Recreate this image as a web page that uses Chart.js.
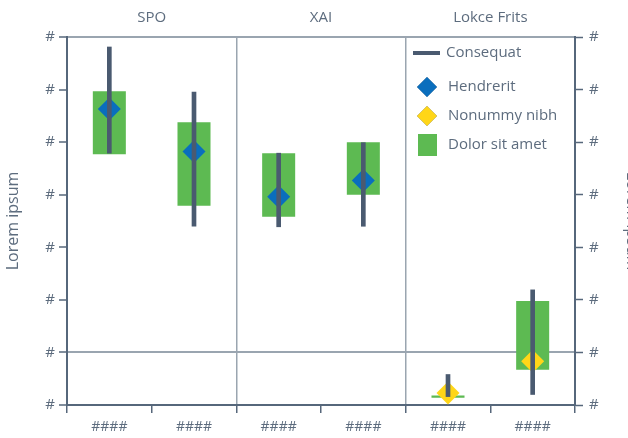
<!DOCTYPE html>
<html>
<head>
<meta charset="utf-8">
<script src="https://cdn.jsdelivr.net/npm/chart.js@4.4.1/dist/chart.umd.min.js"></script>
<style>
  html, body { margin:0; padding:0; background:#fff; }
  #wrap { width:628px; height:438px; }
</style>
</head>
<body>
<div id="wrap"><canvas id="c" width="628" height="438"></canvas></div>
<script>
// data (value scale 0..7, every tick labelled "#")
const categories = ['####','####','####','####','####','####'];
const panels = ['SPO','XAI','Lokce Frits'];
const tickLabel = '#';
const boxLow   = [4.77, 3.79, 3.58, 4.00, 0.14, 0.67];
const boxHigh  = [5.97, 5.38, 4.79, 5.00, 0.18, 1.98];
const whiskLow  = [4.79, 3.40, 3.39, 3.40, 0.16, 0.20];
const whiskHigh = [6.81, 5.95, 4.79, 4.99, 0.58, 2.19];
const hendrerit = [5.63, 4.82, 3.96, 4.27, null, null];
const nonummy   = [null, null, null, null, 0.23, 0.83];

const C = {
  axis:'#56677b', grid:'#9aa5b0', text:'#5d6c7e',
  whisker:'#4a5a70', blue:'#0a6ebd', yellow:'#ffd618', green:'#5dba52'
};
const FONT = "'Open Sans', sans-serif";

const pair = (lo, hi) => lo.map((v,i) => [v, hi[i]]);

// legend drawn inside the third panel
const boxLegend = {
  id:'boxLegend',
  afterDraw(chart){
    const ctx = chart.ctx;
    const ds = chart.data.datasets;
    const x = 413, rows = [53, 87, 116, 145];
    ctx.save();
    ctx.font = '15px ' + FONT;
    ctx.fillStyle = C.text;
    ctx.textBaseline = 'middle';
    ds.forEach((d,i) => {
      const y = rows[i];
      if(d.legendKind==='line'){
        ctx.fillStyle = d.backgroundColor;
        ctx.fillRect(x, y-2, 27, 4);
      } else if(d.legendKind==='diamond'){
        Chart.helpers.drawPoint(ctx, {pointStyle:'rectRot', radius:10, borderWidth:0}, x+14, y);
        ctx.fillStyle = d.backgroundColor;
        ctx.beginPath();
        ctx.moveTo(x+14, y-10); ctx.lineTo(x+24, y); ctx.lineTo(x+14, y+10); ctx.lineTo(x+4, y);
        ctx.closePath(); ctx.fill();
      } else {
        ctx.fillStyle = d.backgroundColor;
        ctx.fillRect(x+5, y-11, 19, 22);
      }
      ctx.fillStyle = C.text;
      ctx.fillText(d.label, d.legendKind==='line' ? x+33 : x+35, y);
    });
    ctx.restore();
  }
};

const chart = new Chart(document.getElementById('c'), {
  type:'bar',
  data:{
    labels: categories,
    datasets:[
      { type:'bar', label:'Consequat', legendKind:'line', data: pair(whiskLow, whiskHigh),
        backgroundColor:C.whisker, barThickness:4, grouped:false, order:0 },
      { type:'line', label:'Hendrerit', legendKind:'diamond', data: hendrerit, showLine:false,
        pointStyle:'rectRot', pointRadius:11.5, pointHoverRadius:11.5, pointBorderWidth:0,
        backgroundColor:C.blue, borderColor:C.blue, order:1 },
      { type:'line', label:'Nonummy nibh', legendKind:'diamond', data: nonummy, showLine:false,
        pointStyle:'rectRot', pointRadius:11.5, pointHoverRadius:11.5, pointBorderWidth:0,
        backgroundColor:C.yellow, borderColor:C.yellow, order:1 },
      { type:'bar', label:'Dolor sit amet', legendKind:'box', data: pair(boxLow, boxHigh),
        backgroundColor:C.green, categoryPercentage:1, barPercentage:0.39, grouped:false, order:2 }
    ]
  },
  options:{
    responsive:false, animation:false,
    layout:{ padding:0 },
    plugins:{ legend:{display:false}, tooltip:{enabled:false} },
    scales:{
      x:{
        position:'bottom', offset:true,
        afterFit: s => { s.height = 33; },
        grid:{ offset:true, drawOnChartArea:true, tickLength:8, tickWidth:1.5, tickColor:C.axis,
               color: c => (c.index===2 || c.index===4) ? C.grid : 'rgba(0,0,0,0)', lineWidth:1.5 },
        border:{ color:C.axis, width:2 },
        ticks:{ color:C.text, font:{family:FONT, size:14}, padding:6, maxRotation:0 }
      },
      x2:{
        type:'category', labels: panels, position:'top', offset:true,
        afterFit: s => { s.height = 37; },
        grid:{ display:false, drawTicks:false },
        border:{ color:C.grid, width:2 },
        ticks:{ color:C.text, font:{family:FONT, size:15}, padding:10 }
      },
      y:{
        position:'left', min:0, max:7,
        afterFit: s => { s.width = 67; },
        grid:{ tickLength:8, tickColor:C.axis, tickWidth:1.5,
               color: c => (c.tick && (c.tick.value===1)) ? C.grid : 'rgba(0,0,0,0)', lineWidth:2 },
        border:{ color:C.axis, width:2 },
        ticks:{ stepSize:1, color:C.text, font:{family:FONT, size:15}, padding:4, callback: () => tickLabel },
        title:{ display:true, text:'Lorem ipsum', color:C.text, font:{family:FONT, size:16}, padding:{top:4, bottom:0} }
      },
      y2:{
        position:'right', min:0, max:7,
        afterFit: s => { s.width = 53; },
        grid:{ drawOnChartArea:false, tickLength:8, tickColor:C.axis, tickWidth:1.5 },
        border:{ color:C.axis, width:2 },
        ticks:{ stepSize:1, color:C.text, font:{family:FONT, size:15}, padding:6, callback: () => tickLabel },
        title:{ display:true, text:'Lorem ipsum', color:C.text, font:{family:FONT, size:16}, padding:{top:-13, bottom:0} }
      }
    }
  },
  plugins:[boxLegend]
});
</script>
</body>
</html>
